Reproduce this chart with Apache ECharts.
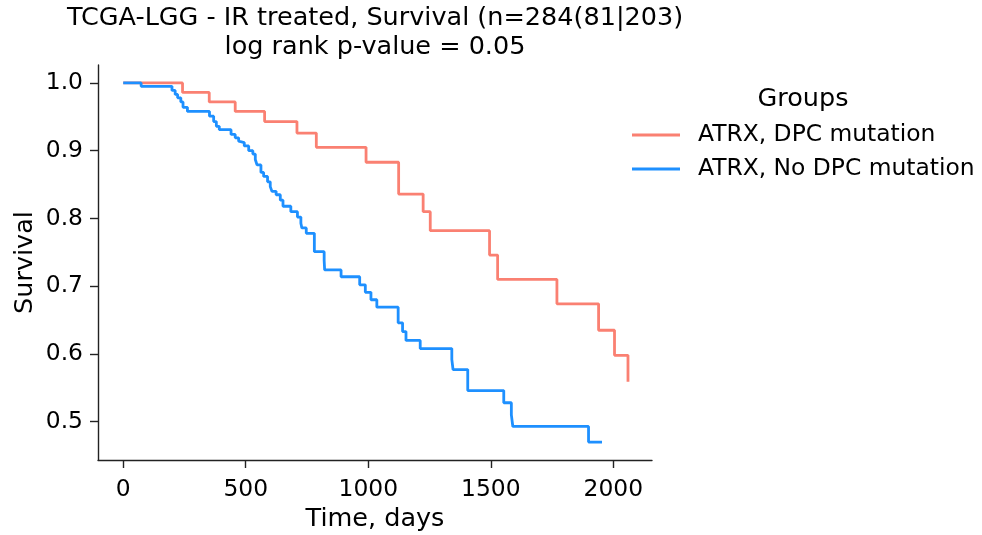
<!DOCTYPE html>
<html>
<head>
<meta charset="utf-8">
<script src="https://cdn.jsdelivr.net/npm/echarts@6/dist/echarts.min.js"></script>
<style>
html,body{margin:0;padding:0;background:#fff;}
#chart{width:982px;height:535px;}
</style>
</head>
<body>
<div id="chart"></div>
<script>
// Kaplan-Meier step data: [time (days), survival after event]
const dpcTimes =    [0, 242, 351, 457, 577, 709, 788, 991, 1124, 1224, 1253, 1495, 1528, 1770, 1940, 2005, 2060];
const dpcSurvival = [1.0, 0.986, 0.972, 0.958, 0.943, 0.926, 0.905, 0.883, 0.836, 0.810, 0.782, 0.746, 0.710, 0.674, 0.635, 0.598, 0.559];

const noDpcTimes = [0, 73, 199, 212, 222, 235, 244, 262, 352, 369, 380, 392, 440, 457, 471, 478, 494, 512, 529, 539, 546, 562, 573, 589, 600, 607, 624, 641, 652, 684, 711, 725, 729, 747, 780, 820, 822, 889, 965, 988, 1011, 1035, 1122, 1140, 1154, 1212, 1341, 1346, 1406, 1553, 1584, 1590, 1899, 1954];
const noDpcSurvival = [1.0, 0.995, 0.989, 0.983, 0.978, 0.972, 0.964, 0.958, 0.951, 0.943, 0.936, 0.931, 0.924, 0.919, 0.914, 0.912, 0.907, 0.900, 0.895, 0.887, 0.879, 0.868, 0.862, 0.854, 0.847, 0.840, 0.835, 0.827, 0.818, 0.810, 0.802, 0.793, 0.786, 0.778, 0.751, 0.738, 0.724, 0.714, 0.702, 0.691, 0.680, 0.669, 0.646, 0.633, 0.620, 0.608, 0.592, 0.577, 0.546, 0.528, 0.510, 0.493, 0.470, 0.470];

const groupNames = ['ATRX, DPC mutation', 'ATRX, No DPC mutation'];
const xTicks = [0, 500, 1000, 1500, 2000];
const yTicks = [0.5, 0.6, 0.7, 0.8, 0.9, 1.0];

const titleText = 'TCGA-LGG - IR treated, Survival (n=284(81|203)\nlog rank p-value = 0.05';

function pairs(t, s) { return t.map((v, i) => [v, s[i]]); }

const FONT = 'DejaVu Sans';
const BIG = 25.5, SMALL = 23.4;
const chart = echarts.init(document.getElementById('chart'), null, {renderer: 'canvas'});
chart.setOption({
  animation: false,
  backgroundColor: '#ffffff',
  title: [
    {
      text: titleText,
      left: 375, top: 4, textAlign: 'center', padding: 0,
      textStyle: {fontFamily: FONT, fontSize: BIG, fontWeight: 'normal', color: '#000', lineHeight: 29}
    },
    {
      text: 'Groups',
      left: 803, top: 86, textAlign: 'center', padding: 0,
      textStyle: {fontFamily: FONT, fontSize: BIG, fontWeight: 'normal', color: '#000'}
    }
  ],
  legend: {
    orient: 'vertical',
    left: 632, top: 122, padding: 0,
    icon: 'rect',
    itemWidth: 48, itemHeight: 3,
    itemGap: 8,
    data: groupNames,
    textStyle: {fontFamily: FONT, fontSize: SMALL, color: '#000', padding: [0,0,0,13], lineHeight: 26}
  },
  grid: {left: 98, right: 330, top: 65, bottom: 75, containLabel: false, outerBoundsMode: 'none'},
  xAxis: {
    type: 'value',
    min: -103, max: 2158,
    name: 'Time, days', nameLocation: 'middle', nameGap: 46, nameMoveOverlap: false,
    nameTextStyle: {fontFamily: FONT, fontSize: BIG, color: '#000'},
    axisLine: {show: true, onZero: false, lineStyle: {color: '#222', width: 1.4}},
    axisTick: {show: true, length: 8, customValues: xTicks, lineStyle: {color: '#222', width: 1.4}},
    axisLabel: {customValues: xTicks, fontFamily: FONT, fontSize: SMALL, color: '#000', margin: 18,
      formatter: v => String(v)},
    splitLine: {show: false}
  },
  yAxis: {
    type: 'value',
    min: 0.4435, max: 1.0265,
    name: 'Survival', nameLocation: 'middle', nameGap: 60, nameMoveOverlap: false,
    nameTextStyle: {fontFamily: FONT, fontSize: BIG, color: '#000'},
    axisLine: {show: true, onZero: false, lineStyle: {color: '#222', width: 1.4}},
    axisTick: {show: true, length: 8, customValues: yTicks, lineStyle: {color: '#222', width: 1.4}},
    axisLabel: {customValues: yTicks, fontFamily: FONT, fontSize: SMALL, color: '#000', margin: 15,
      formatter: v => v.toFixed(1)},
    splitLine: {show: false}
  },
  series: [
    {
      name: groupNames[0], type: 'line', step: 'end', showSymbol: false,
      data: pairs(dpcTimes, dpcSurvival),
      itemStyle: {color: '#FA8072'},
      lineStyle: {color: '#FA8072', width: 2.8}
    },
    {
      name: groupNames[1], type: 'line', step: 'end', showSymbol: false,
      data: pairs(noDpcTimes, noDpcSurvival),
      itemStyle: {color: '#1E90FF'},
      lineStyle: {color: '#1E90FF', width: 2.8}
    }
  ]
});
</script>
</body>
</html>
